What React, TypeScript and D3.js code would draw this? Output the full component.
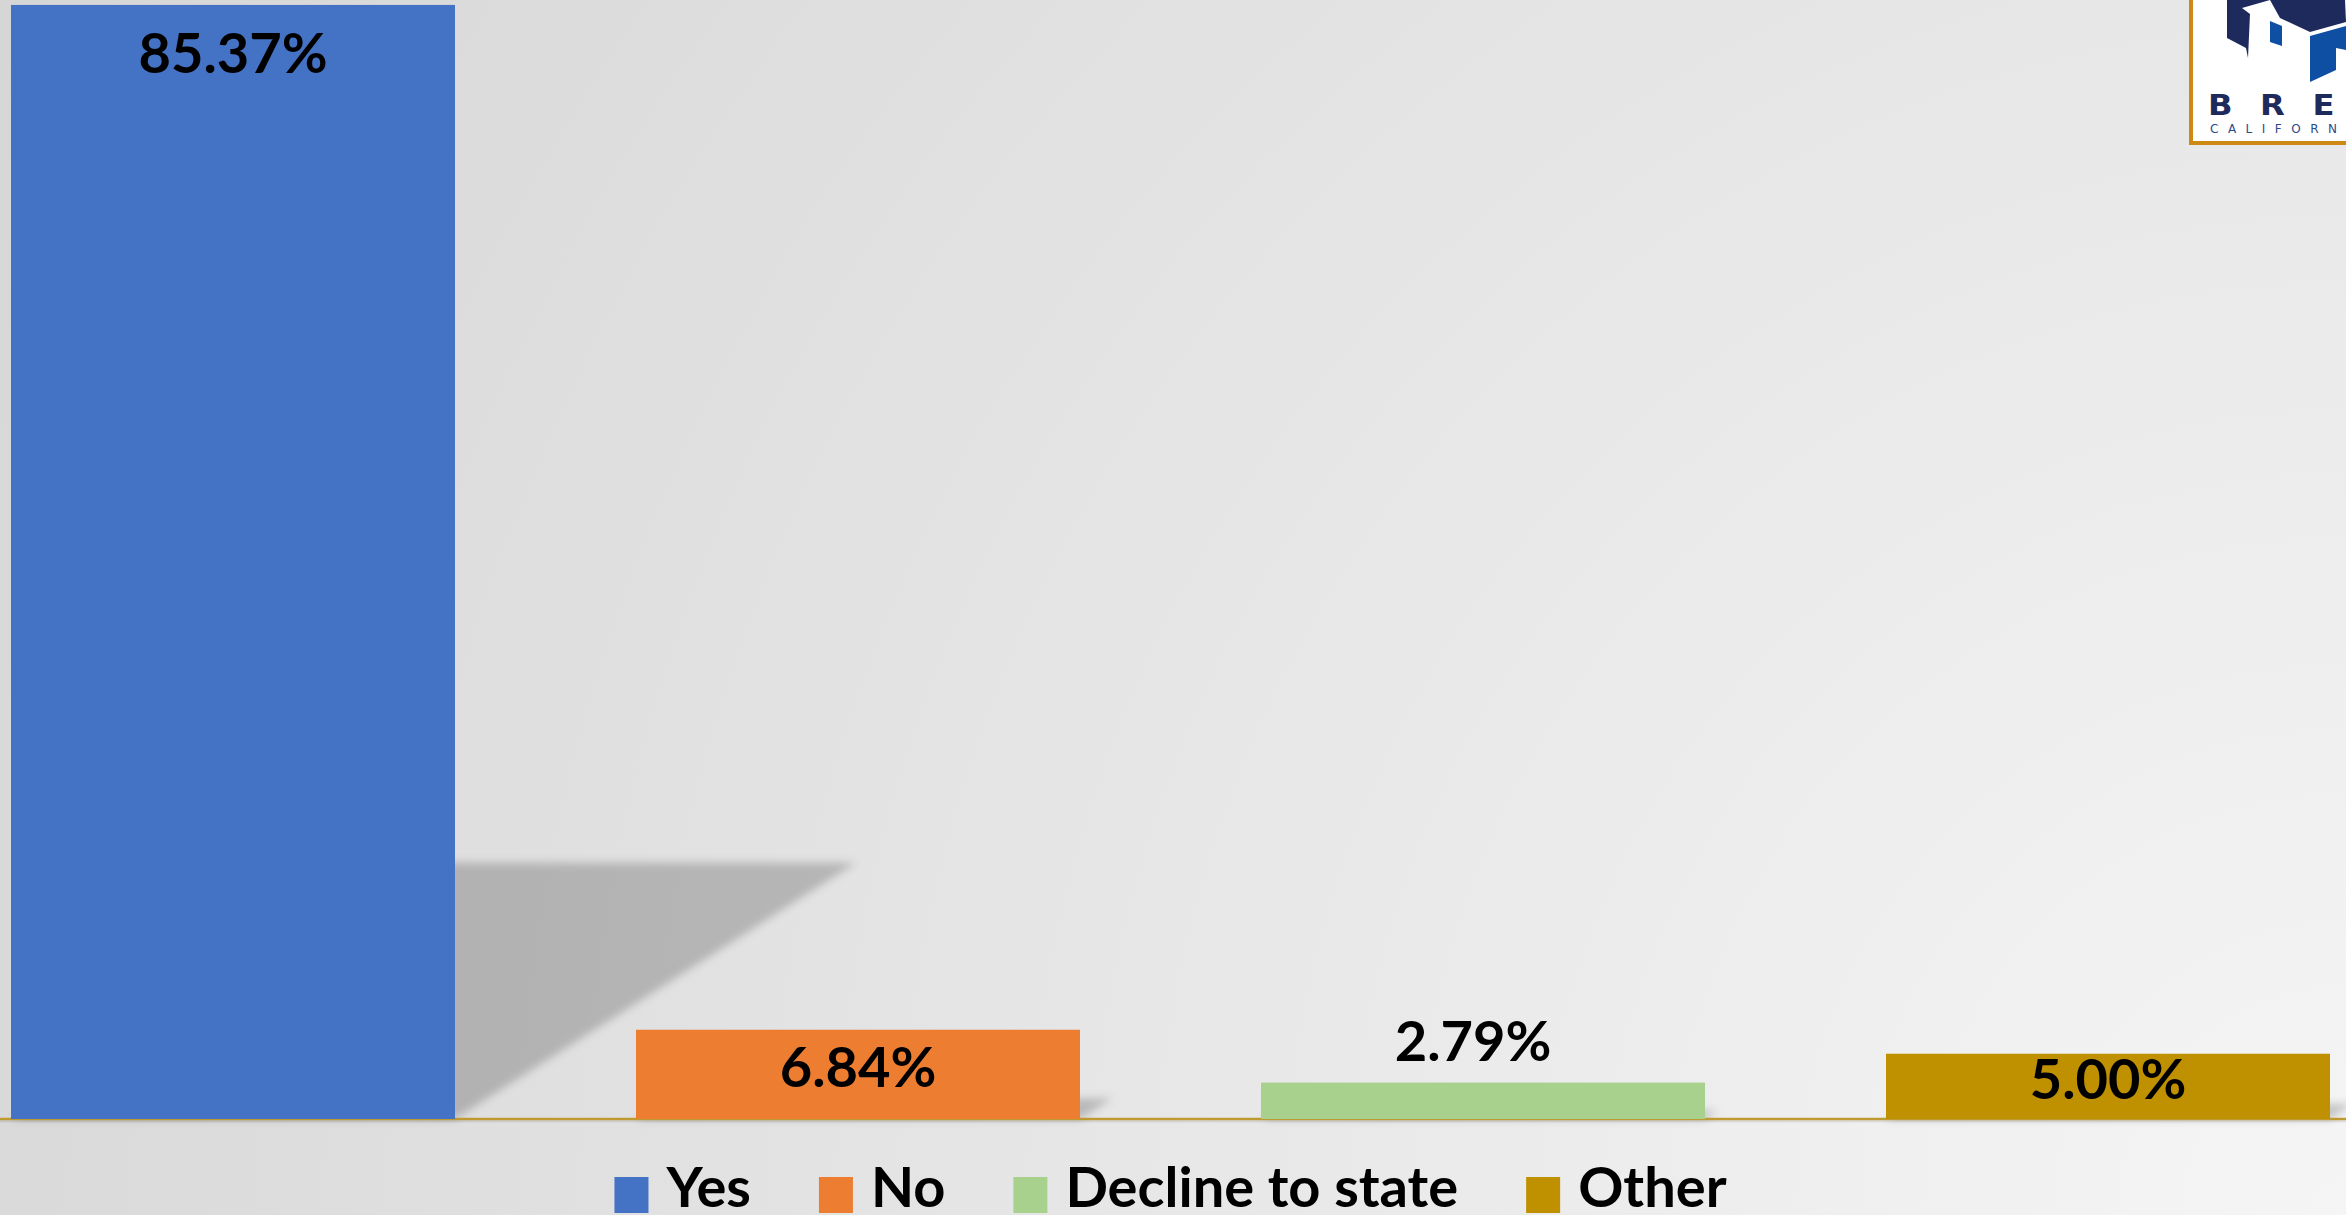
import React, { useEffect, useRef } from "react";
import * as d3 from "d3";

const categories = ["Yes", "No", "Decline to state", "Other"];
const values = [85.37, 6.84, 2.79, 5.0];
const colors = ["#4472c4", "#ed7d31", "#a9d18e", "#bf9000"];
const labels = ["85.37%", "6.84%", "2.79%", "5.00%"];

const W = 2346;
const H = 1215;
const FONT = "Lato, 'Open Sans', sans-serif";

export default function App() {
  const ref = useRef<SVGSVGElement | null>(null);

  useEffect(() => {
    const svg = d3.select(ref.current);
    svg.selectAll("*").remove();

    const defs = svg.append("defs");
    const rg = defs
      .append("radialGradient")
      .attr("id", "bg")
      .attr("gradientUnits", "userSpaceOnUse")
      .attr("cx", W)
      .attr("cy", H)
      .attr("r", 2650);
    rg.append("stop").attr("offset", "0").attr("stop-color", "#f5f5f5");
    rg.append("stop").attr("offset", "1").attr("stop-color", "#d6d6d6");

    const blur = defs.append("filter").attr("id", "blur").attr("x", "-20%").attr("y", "-20%").attr("width", "140%").attr("height", "140%");
    blur.append("feGaussianBlur").attr("stdDeviation", 4);

    svg.append("rect").attr("width", W).attr("height", H).attr("fill", "url(#bg)");

    const baseY = 1119;
    const x = d3.scaleBand<string>().domain(categories).range([11, 2330]).paddingInner(0.2896).paddingOuter(0);
    const y = d3.scaleLinear().domain([0, 100]).range([baseY, baseY - 1305]);

    // shadows (sheared, flattened copies of the bars)
    const shadowG = svg.append("g").attr("filter", "url(#blur)");
    categories.forEach((c, i) => {
      const x0 = x(c)!;
      const x1 = x0 + x.bandwidth();
      const h = baseY - y(values[i]);
      const sh = 0.23 * h;
      const s = 0.36 * h;
      const pts = [
        [x0, baseY],
        [x1, baseY],
        [x1 + s, baseY - sh],
        [x0 + s, baseY - sh],
      ];
      shadowG
        .append("path")
        .attr("d", d3.line()(pts as [number, number][])! + "Z")
        .attr("fill", "#000")
        .attr("fill-opacity", 0.2);
    });

    // baseline
    svg.append("line").attr("x1", 0).attr("x2", W).attr("y1", baseY + 2).attr("y2", baseY + 2).attr("stroke", "#000").attr("stroke-opacity", 0.08).attr("stroke-width", 3);
    svg.append("line").attr("x1", 0).attr("x2", W).attr("y1", baseY).attr("y2", baseY).attr("stroke", "#bf9a30").attr("stroke-width", 2.5);

    // bars
    svg
      .append("g")
      .selectAll("rect")
      .data(categories)
      .join("rect")
      .attr("x", (c) => x(c)!)
      .attr("width", x.bandwidth())
      .attr("y", (c, i) => y(values[i]))
      .attr("height", (c, i) => baseY - y(values[i]))
      .attr("fill", (c, i) => colors[i]);

    // data labels
    const labelBaseline = (i: number) => {
      const top = y(values[i]);
      const h = baseY - top;
      if (h > 500) return top + 68;
      if (h < 40) return top - 22;
      if (h > 80) return top + 57;
      return top + 45;
    };
    const labelDx = (i: number) => (baseY - y(values[i]) < 40 ? -10 : 0);
    svg
      .append("g")
      .selectAll("text")
      .data(categories)
      .join("text")
      .attr("x", (c, i) => x(c)! + x.bandwidth() / 2 + labelDx(i))
      .attr("y", (c, i) => labelBaseline(i))
      .attr("text-anchor", "middle")
      .attr("font-family", FONT)
      .attr("font-weight", 700)
      .attr("font-size", 56)
      .attr("fill", "#000")
      .text((c, i) => labels[i]);

    // legend
    const leg = svg.append("g");
    const items = leg
      .selectAll("g")
      .data(categories)
      .join("g");
    items
      .append("rect")
      .attr("width", 34)
      .attr("height", 36)
      .attr("y", 1177)
      .attr("fill", (c, i) => colors[i]);
    items
      .append("text")
      .attr("x", 52)
      .attr("y", 1207)
      .attr("font-family", FONT)
      .attr("font-weight", 700)
      .attr("font-size", 56)
      .attr("fill", "#000")
      .text((c) => c);
    const widths: number[] = [];
    items.each(function () {
      const t = d3.select(this).select("text").node() as SVGTextElement;
      widths.push(52 + t.getComputedTextLength());
    });
    const gap = 68;
    const total = d3.sum(widths) + gap * (widths.length - 1);
    let cx = (11 + 2330) / 2 - total / 2;
    items.attr("transform", (c, i) => {
      const t = `translate(${cx},0)`;
      cx += widths[i] + gap;
      return t;
    });

    // logo
    const logo = svg.append("g");
    logo.append("rect").attr("x", 2191).attr("y", -10).attr("width", 200).attr("height", 153).attr("fill", "#ffffff").attr("stroke", "#cc8a12").attr("stroke-width", 4);
    const navy = "#1f2a5c";
    const blue = "#0e4fa3";
    logo.append("path").attr("d", "M2227,0 L2227,38 L2246,48 L2248,58 L2250,14 L2242,8 L2270,0 Z").attr("fill", navy);
    logo.append("path").attr("d", "M2270,0 L2345,0 L2346,22 L2310,32 L2280,18 Z").attr("fill", navy);
    logo.append("path").attr("d", "M2310,36 L2346,26 L2346,50 L2336,48 L2336,70 L2310,82 Z").attr("fill", blue);
    logo.append("path").attr("d", "M2270,21 L2282,26 L2282,46 L2270,42 Z").attr("fill", blue);
    logo
      .append("text")
      .attr("x", 2208)
      .attr("y", 115)
      .attr("font-family", "'DejaVu Sans', sans-serif")
      .attr("font-weight", 700)
      .attr("font-size", 28)
      .attr("letter-spacing", 24)
      .attr("fill", navy)
      .attr("transform", "translate(2208,0) scale(1.15,1) translate(-2208,0)")
      .text("BRE");
    logo
      .append("text")
      .attr("x", 2210)
      .attr("y", 133)
      .attr("font-family", "'DejaVu Sans', sans-serif")
      .attr("font-size", 12)
      .attr("letter-spacing", 9.5)
      .attr("fill", "#2b4a8a")
      .text("CALIFORNIA");
  }, []);

  return (
    <svg
      ref={ref}
      width={W}
      height={H}
      style={{ position: "absolute", left: 0, top: 0, display: "block" }}
    />
  );
}
